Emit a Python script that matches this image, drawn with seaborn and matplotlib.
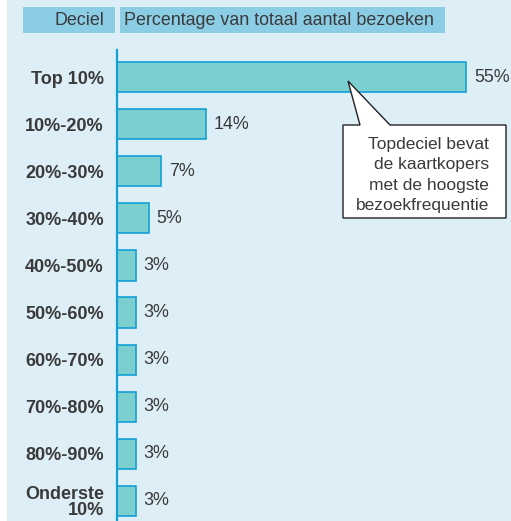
import matplotlib
matplotlib.use("Agg")
import matplotlib.pyplot as plt
import seaborn as sns
import pandas as pd
from matplotlib.patches import Rectangle, Polygon

deciles = ["Top 10%", "10%-20%", "20%-30%", "30%-40%", "40%-50%", "50%-60%",
           "60%-70%", "70%-80%", "80%-90%", "Onderste\n10%"]
values = [55, 14, 7, 5, 3, 3, 3, 3, 3, 3]
value_labels = ["55%", "14%", "7%", "5%", "3%", "3%", "3%", "3%", "3%", "3%"]
header_left = "Deciel"
header_right = "Percentage van totaal aantal bezoeken"
callout = "Topdeciel bevat\nde kaartkopers\nmet de hoogste\nbezoekfrequentie"

W, H = 511, 521
BG = "#ddeef7"
BAR = "#7ccfcf"
EDGE = "#14a0d7"
HEAD = "#8ccde6"
TXT = "#3a3a3a"

sns.set_theme(style="white")
plt.rcParams["font.family"] = ["Liberation Sans", "DejaVu Sans"]

fig = plt.figure(figsize=(W / 100, H / 100), dpi=100)
fig.patch.set_facecolor("white")

def fx(x):
    return x / W

def fy(y):
    return 1 - y / H

# background panel
fig.patches.append(Rectangle((fx(7), 0), fx(W - 7), 1, transform=fig.transFigure,
                             facecolor=BG, edgecolor="none", zorder=-5))
# header boxes
fig.patches.append(Rectangle((fx(23), fy(33)), fx(115 - 23), (33 - 7) / H,
                             transform=fig.transFigure, facecolor=HEAD,
                             edgecolor="none", zorder=1))
fig.patches.append(Rectangle((fx(120), fy(33)), fx(445 - 120), (33 - 7) / H,
                             transform=fig.transFigure, facecolor=HEAD,
                             edgecolor="none", zorder=1))
fig.text(fx(104), fy(20.5), header_left, ha="right", va="center",
         fontsize=12.9, color=TXT, zorder=2)
fig.text(fx(124), fy(20.5), header_right, ha="left", va="center",
         fontsize=12.9, color=TXT, zorder=2)

ax = fig.add_axes([fx(117), 0, fx(W - 117), (H - 50) / H])
ax.set_facecolor("none")
ax.set_zorder(2)

df = pd.DataFrame({"Deciel": deciles, "Waarde": values})
sns.barplot(data=df, x="Waarde", y="Deciel", orient="h", ax=ax,
            color=BAR, edgecolor=EDGE, linewidth=1.2, width=0.64,
            saturation=1)

for i, (v, lab) in enumerate(zip(values, value_labels)):
    ax.annotate(lab, (v, i), xytext=(5.5, 0), textcoords="offset points",
                ha="left", va="center", fontsize=12.9, color=TXT)

scale = 6.35
ax.set_xlim(0, (W - 117) / scale)
ax.set_ylim(9 + (521 - 501) / 47.1, -(77 - 50) / 47.1)
ax.set_xlabel("")
ax.set_ylabel("")
ax.set_xticks([])
ax.tick_params(axis="y", length=0, pad=9.5)
for t in ax.get_yticklabels():
    t.set_fontweight("bold")
    t.set_fontsize(13)
    t.set_color(TXT)
    t.set_multialignment("right")
    t.set_linespacing(0.95)
for s in ["top", "right", "bottom"]:
    ax.spines[s].set_visible(False)
ax.spines["left"].set_color(EDGE)
ax.spines["left"].set_linewidth(1.6)

# callout
pts = [(343, 125), (360, 125), (348, 81), (390, 125), (506, 125),
       (506, 218), (343, 218)]
fig.patches.append(Polygon([(fx(x), fy(y)) for x, y in pts], closed=True,
                           transform=fig.transFigure, facecolor="white",
                           edgecolor="#222222", linewidth=1.0, zorder=5))
fig.text(fx(489), fy(175), callout, ha="right", va="center",
         multialignment="right", fontsize=12.5, color=TXT,
         linespacing=1.43, zorder=6)

fig.savefig("out.png", dpi=100)
